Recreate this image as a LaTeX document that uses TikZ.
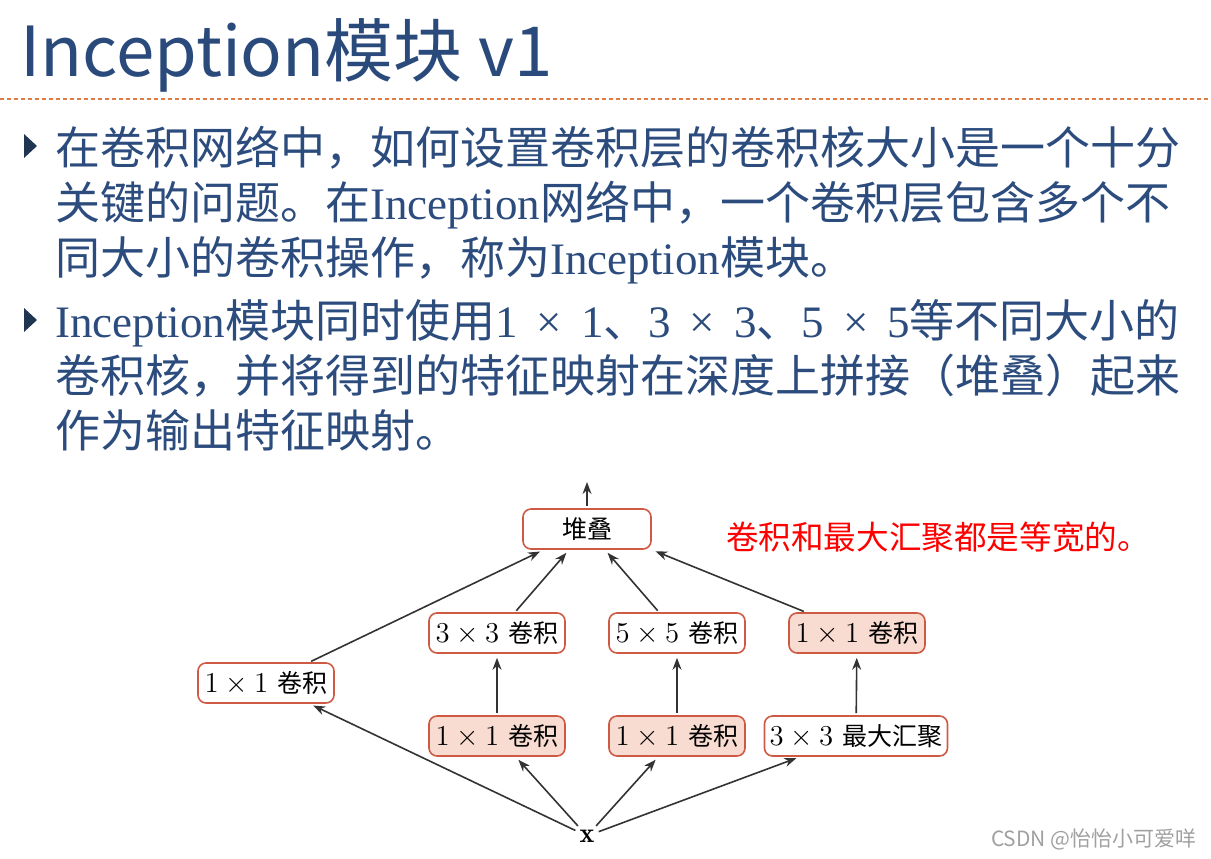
\documentclass[tikz,border=0pt]{standalone}
\usepackage{fontspec}
\newfontfamily\cjk{Noto Sans CJK SC}
\newfontfamily\latinserif{Liberation Serif}
\usepackage{xcolor}
\definecolor{cTitle}{HTML}{2B4A7C}
\definecolor{cText}{HTML}{2C4C7E}
\definecolor{cBullet}{HTML}{1F3552}
\definecolor{cRule}{HTML}{E07A45}
\definecolor{cBox}{HTML}{CF5A43}
\definecolor{cFill}{HTML}{F9DCD1}
\definecolor{cArrow}{HTML}{333333}
\definecolor{cNote}{HTML}{FF0000}
\definecolor{cMark}{HTML}{A0A0A0}
\usepackage{tikz}
\usetikzlibrary{arrows.meta}
\tikzset{
  node-box/.style={draw=cBox,line width=0.8pt,rounded corners=4pt,
    minimum height=20pt,minimum width=68pt,inner sep=2pt,align=center,
    font=\fontsize{14}{16}\selectfont},
  node-fill/.style={fill=cFill},
  line-text/.style={anchor=base west,inner sep=0pt,text=cText,
    font=\fontsize{22.5}{27}\selectfont\cjk},
  bullet/.style={fill=cBullet,draw=none},
  arrow/.style={-{Stealth[length=6pt,width=4.5pt]},line width=0.8pt,draw=cArrow,
    shorten >=2pt,shorten <=1pt},
}
\newcommand{\jz}[1]{{\cjk\fontsize{12.5}{14}\selectfont #1}}
\newcommand{\sz}[1]{{\latinserif #1\hspace{0.42em}×\hspace{0.42em}#1}}

\begin{document}
\begin{tikzpicture}[x=0.5pt,y=-0.5pt]
  \useasboundingbox (0,0) rectangle (1211,858);
  % 标题与分隔线
  \node[anchor=base west,inner sep=0pt,text=cTitle,
    font=\fontsize{34.5}{40}\selectfont\cjk] (title) at (20,76) {Inception模块 v1};
  \draw[cRule,line width=0.6pt,dash pattern=on 2pt off 1.5pt] (0,99) -- (1211,99);
  % 正文
  \fill[bullet] (24,134) -- (37,146) -- (24,158) -- cycle;
  \node[line-text] (l1) at (55,164) {在卷积网络中，如何设置卷积层的卷积核大小是一个十分};
  \node[line-text] (l2) at (55,219) {关键的问题。在{\latinserif Inception}网络中，一个卷积层包含多个不};
  \node[line-text] (l3) at (55,274) {同大小的卷积操作，称为{\latinserif Inception}模块。};
  \fill[bullet] (24,308) -- (37,320) -- (24,332) -- cycle;
  \node[line-text] (l4) at (55,337) {{\latinserif Inception}模块同时使用\sz{1}、\sz{3}、\sz{5}等不同大小的};
  \node[line-text] (l5) at (55,392) {卷积核，并将得到的特征映射在深度上拼接（堆叠）起来};
  \node[line-text] (l6) at (55,447) {作为输出特征映射。};
  % Inception 模块
  \node[node-box,minimum width=64pt] (stack) at (587,529) {\jz{堆叠}};
  \coordinate (out) at (587,478);
  \node[node-box] (c33) at (497,633) {$3\times3$ \jz{卷积}};
  \node[node-box] (c55) at (677,633) {$5\times5$ \jz{卷积}};
  \node[node-box,node-fill] (c11b) at (857,633) {$1\times1$ \jz{卷积}};
  \node[node-box] (c11a) at (266,683) {$1\times1$ \jz{卷积}};
  \node[node-box,node-fill] (r11a) at (497,736) {$1\times1$ \jz{卷积}};
  \node[node-box,node-fill] (r11b) at (677,736) {$1\times1$ \jz{卷积}};
  \node[node-box,minimum width=91.5pt] (pool) at (856,736) {$3\times3$ \jz{最大汇聚}};
  \node[inner sep=1pt,font=\fontsize{14}{16}\selectfont] (x) at (587,836) {$\mathbf{x}$};
  \node[text=cNote,font=\fontsize{16.3}{18}\selectfont\cjk] (note) at (938,537) {卷积和最大汇聚都是等宽的。};
  \draw[arrow] (stack) -- (out);
  \draw[arrow] (c11a) -- (stack);
  \draw[arrow] (c33) -- (stack);
  \draw[arrow] (c55) -- (stack);
  \draw[arrow] (c11b) -- (stack.south east);
  \draw[arrow] (r11a) -- (c33);
  \draw[arrow] (r11b) -- (c55);
  \draw[arrow] (pool) -- (c11b);
  \draw[arrow] (x) -- (c11a);
  \draw[arrow] (x) -- (r11a);
  \draw[arrow] (x) -- (r11b);
  \draw[arrow] (x) -- (pool);
  \node[anchor=base east,inner sep=0pt,text=cMark,
    font=\fontsize{10.5}{13}\selectfont\cjk] (mark) at (1197,846) {CSDN @怡怡小可爱咩};
\end{tikzpicture}
\end{document}
